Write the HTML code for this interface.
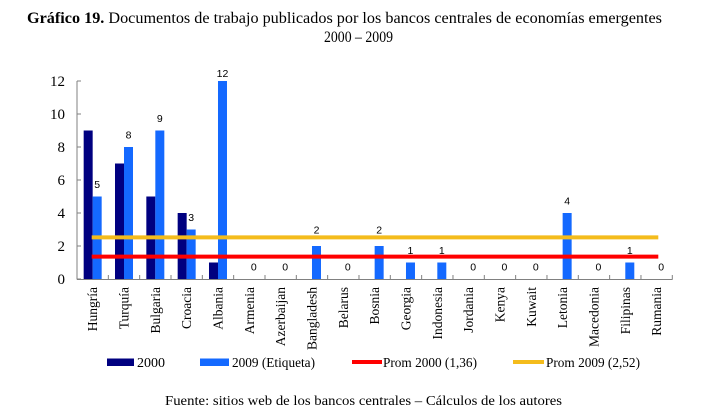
<!DOCTYPE html>
<html><head><meta charset="utf-8"><style>
html,body{margin:0;padding:0;background:#fff;}
svg{display:block;}
.s{font-family:"Liberation Serif",serif;fill:#000;}
.n{font-family:"Liberation Sans",sans-serif;font-size:10.5px;fill:#000;}
</style></head><body>
<svg width="714" height="417" viewBox="0 0 714 417" xmlns="http://www.w3.org/2000/svg">
<text class="s" x="27" y="23" font-size="16" textLength="635" lengthAdjust="spacingAndGlyphs"><tspan font-weight="bold">Gráfico 19.</tspan> Documentos de trabajo publicados por los bancos centrales de economías emergentes</text>
<text class="s" x="324" y="42" font-size="16" textLength="69" lengthAdjust="spacingAndGlyphs">2000 – 2009</text>
<g id="bars"></g>
<g stroke="#808080" stroke-width="1" fill="none">
<line x1="77" y1="81" x2="77" y2="279.5"/>
<line x1="77" y1="279.5" x2="672.5" y2="279.5"/>
</g>
<g id="ticks" stroke="#808080" stroke-width="1"></g>
<line x1="91.7" y1="256.6" x2="658.3" y2="256.6" stroke="#FF0000" stroke-width="4"/>
<line x1="91.7" y1="237.4" x2="658.3" y2="237.4" stroke="#F4BC1C" stroke-width="4"/>
<g id="labels"></g>
<rect x="107" y="358.5" width="27" height="7.5" fill="#000080"/>
<text class="s" x="137" y="367" font-size="14">2000</text>
<rect x="200" y="358.5" width="29" height="7.5" fill="#1469FF"/>
<text class="s" x="232" y="367" font-size="14" textLength="83" lengthAdjust="spacingAndGlyphs">2009 (Etiqueta)</text>
<line x1="352" y1="362" x2="382" y2="362" stroke="#FF0000" stroke-width="4"/>
<text class="s" x="383" y="367" font-size="14" textLength="94" lengthAdjust="spacingAndGlyphs">Prom 2000 (1,36)</text>
<line x1="513" y1="362" x2="544" y2="362" stroke="#F4BC1C" stroke-width="4"/>
<text class="s" x="546" y="367" font-size="14" textLength="94" lengthAdjust="spacingAndGlyphs">Prom 2009 (2,52)</text>
<text class="s" x="165" y="405" font-size="14" textLength="397" lengthAdjust="spacingAndGlyphs">Fuente: sitios web de los bancos centrales – Cálculos de los autores</text>
</svg>
<script>
(function(){
var NS="http://www.w3.org/2000/svg";
var names=["Hungría","Turquía","Bulgaria","Croacia","Albania","Armenia","Azerbaijan","Bangladesh","Belarus","Bosnia","Georgia","Indonesia","Jordania","Kenya","Kuwait","Letonia","Macedonia","Filipinas","Rumania"];
var a=[9,7,5,4,1,0,0,0,0,0,0,0,0,0,0,0,0,0,0];
var b=[5,8,9,3,12,0,0,2,0,2,1,1,0,0,0,4,0,1,0];
var x0=77,y0=279,w=(672.3-77)/19,k=16.5;
var bars=document.getElementById("bars"),ticks=document.getElementById("ticks"),labels=document.getElementById("labels");
function el(t,at,p,txt){var e=document.createElementNS(NS,t);for(var q in at)e.setAttribute(q,at[q]);if(txt!=null)e.textContent=txt;p.appendChild(e);return e;}
for(var i=0;i<19;i++){
 var c=x0+(i+0.5)*w;
 if(a[i]>0) el("rect",{x:c-9,y:y0-a[i]*k,width:9,height:a[i]*k,fill:"#000080"},bars);
 if(b[i]>0) el("rect",{x:c,y:y0-b[i]*k,width:9,height:b[i]*k,fill:"#1469FF"},bars);
 var top=y0-b[i]*k, by=(b[i]==12)?77:(b[i]==2?233.5:top-8.5);
 el("text",{x:c+4.5,y:by,"text-anchor":"middle","class":"n"},labels,String(b[i]));
 el("text",{x:0,y:0,"text-anchor":"end","class":"s","font-size":"13.5",transform:"translate("+(c+4.5)+",287) rotate(-90)"},labels,names[i]);
 var tx=x0+(i+1)*w;
 el("line",{x1:tx,y1:275,x2:tx,y2:279.5},ticks);
}
for(var v=0;v<=12;v+=2){
 var y=y0-v*k;
 el("line",{x1:77,y1:y,x2:81,y2:y},ticks);
 el("text",{x:65,y:y+5,"text-anchor":"end","class":"s","font-size":"15"},labels,String(v));
}
})();
</script>
</body></html>
